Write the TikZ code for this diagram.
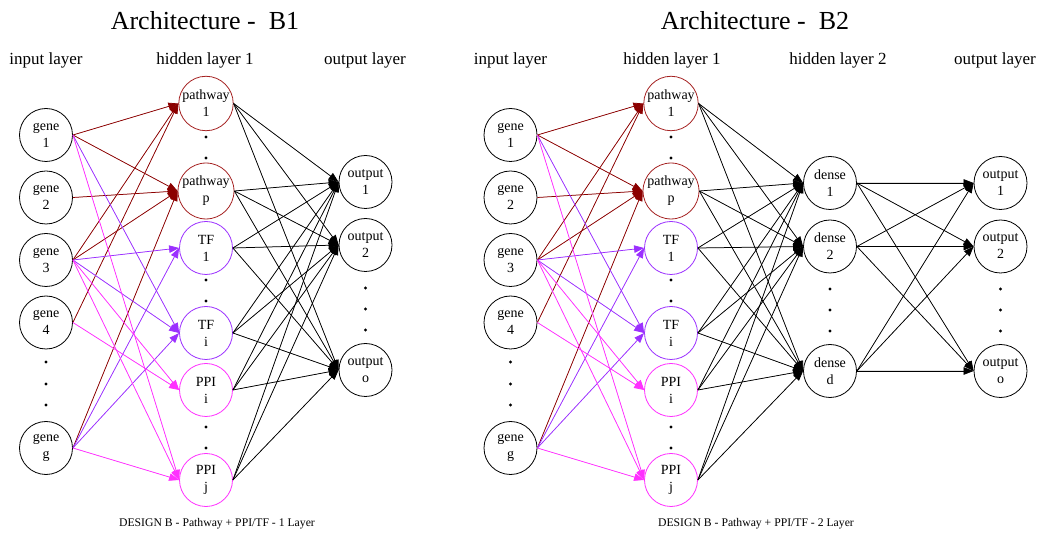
\documentclass[tikz,border=0pt]{standalone}
\usepackage{fontspec}
\setmainfont{Liberation Serif}
\usetikzlibrary{arrows.meta}
\definecolor{pwred}{HTML}{8B0000}
\definecolor{pwring}{HTML}{A52222}
\definecolor{tfpurple}{HTML}{9B30FF}
\definecolor{ppimag}{HTML}{FF30FF}
\begin{document}
\begin{tikzpicture}[x=1pt,y=-1pt,
  neuron/.style={circle,draw=black,line width=0.8pt,minimum size=53pt,inner sep=0pt,align=center,font=\fontsize{14}{17}\selectfont},
  pwnode/.style={neuron,draw=pwring},
  tfnode/.style={neuron,draw=tfpurple},
  ppinode/.style={neuron,draw=ppimag},
  link/.style={line width=0.75pt,-{Triangle[length=10pt,width=7.5pt]}},
  pwlink/.style={link,draw=pwred,fill=pwred},
  tflink/.style={link,draw=tfpurple,fill=tfpurple},
  ppilink/.style={link,draw=ppimag,fill=ppimag},
  denselink/.style={link,draw=black,fill=black},
  layerlbl/.style={anchor=base,inner sep=0pt,font=\fontsize{17}{20}\selectfont},
  titlelbl/.style={anchor=base,inner sep=0pt,font=\fontsize{26}{30}\selectfont},
  captionlbl/.style={anchor=base,inner sep=0pt,font=\fontsize{11.7}{14}\selectfont}]
\useasboundingbox (0,0) rectangle (1045,534);

% ---------------- Architecture B1 ----------------
\node[titlelbl] (t1) at (205,30) {Architecture -\ \ B1};
\node[layerlbl] (l1in)  at (46,65)  {input layer};
\node[layerlbl] (l1h1)  at (205,65) {hidden layer 1};
\node[layerlbl] (l1out) at (365,65) {output layer};

% input genes
\node[neuron] (Lg1) at (46,135)   {gene\\1};
\node[neuron] (Lg2) at (46,197.5) {gene\\2};
\node[neuron] (Lg3) at (46,260)   {gene\\3};
\node[neuron] (Lg4) at (46,322.5) {gene\\4};
\node[neuron] (Lgg) at (46,448)   {gene\\g};
\foreach \y in {362,384,405} \fill (46,\y) circle (1.7);

% hidden layer 1
\node[pwnode]  (Lp1) at (206,103.5) {pathway\\1};
\node[pwnode]  (Lpp) at (206,191)   {pathway\\p};
\node[tfnode]  (Lt1) at (206,248)   {TF\\1};
\node[tfnode]  (Lti) at (206,333)   {TF\\i};
\node[ppinode] (Lqi) at (206,390)   {PPI\\i};
\node[ppinode] (Lqj) at (206,480)   {PPI\\j};
\foreach \y in {137,158,280,301,427,448} \fill (206,\y) circle (1.7);

% outputs
\node[neuron] (Lo1) at (365.5,182) {output\\1};
\node[neuron] (Lo2) at (365.5,245) {output\\2};
\node[neuron] (Loo) at (365.5,370) {output\\o};
\foreach \y in {288,309,330} \fill (365.5,\y) circle (1.7);

\node[captionlbl] (c1) at (217,527) {DESIGN B - Pathway + PPI/TF - 1 Layer};

% ---------------- Architecture B2 ----------------
\node[titlelbl] (t2) at (755,30) {Architecture -\ \ B2};
\node[layerlbl] (l2in)  at (510.5,65) {input layer};
\node[layerlbl] (l2h1)  at (672,65)   {hidden layer 1};
\node[layerlbl] (l2h2)  at (838,65)   {hidden layer 2};
\node[layerlbl] (l2out) at (995,65)   {output layer};

\node[neuron] (Rg1) at (510.5,135)   {gene\\1};
\node[neuron] (Rg2) at (510.5,197.5) {gene\\2};
\node[neuron] (Rg3) at (510.5,260)   {gene\\3};
\node[neuron] (Rg4) at (510.5,322.5) {gene\\4};
\node[neuron] (Rgg) at (510.5,448)   {gene\\g};
\foreach \y in {362,384,405} \fill (510.5,\y) circle (1.7);

\node[pwnode]  (Rp1) at (671,103.5) {pathway\\1};
\node[pwnode]  (Rpp) at (671,191)   {pathway\\p};
\node[tfnode]  (Rt1) at (671,248)   {TF\\1};
\node[tfnode]  (Rti) at (671,333)   {TF\\i};
\node[ppinode] (Rqi) at (671,390)   {PPI\\i};
\node[ppinode] (Rqj) at (671,480)   {PPI\\j};
\foreach \y in {137,158,280,301,427,448} \fill (671,\y) circle (1.7);

\node[neuron] (Rd1) at (830,183)   {dense\\1};
\node[neuron] (Rd2) at (830,246.5) {dense\\2};
\node[neuron] (Rdd) at (830,371)   {dense\\d};
\foreach \y in {289,310,331} \fill (830,\y) circle (1.7);

\node[neuron] (Ro1) at (1000.5,183)   {output\\1};
\node[neuron] (Ro2) at (1000.5,246.5) {output\\2};
\node[neuron] (Roo) at (1000.5,371)   {output\\o};
\foreach \y in {289,310,331} \fill (1000.5,\y) circle (1.7);

\node[captionlbl] (c2) at (756,527) {DESIGN B - Pathway + PPI/TF - 2 Layer};

% ---------------- connections ----------------
% gene -> annotated hidden units (same sparse wiring in both designs)
\foreach \P in {L,R}{
  \foreach \s/\t/\k in {g1/p1/pwlink, g1/pp/pwlink, g2/pp/pwlink, g3/p1/pwlink,
                        g3/pp/pwlink, g4/p1/pwlink, gg/pp/pwlink,
                        g1/ti/tflink, g3/t1/tflink, g3/ti/tflink, gg/t1/tflink, gg/ti/tflink,
                        g1/qj/ppilink, g3/qi/ppilink, g3/qj/ppilink, g4/qi/ppilink, gg/qj/ppilink}
    \draw[\k] (\P\s.east) -- (\P\t.west);
}
% fully connected layers
\foreach \s in {p1,pp,t1,ti,qi,qj}{
  \foreach \t in {o1,o2,oo} \draw[denselink] (L\s.east) -- (L\t.west);
  \foreach \t in {d1,d2,dd} \draw[denselink] (R\s.east) -- (R\t.west);
}
\foreach \s in {d1,d2,dd}
  \foreach \t in {o1,o2,oo} \draw[denselink] (R\s.east) -- (R\t.west);
\end{tikzpicture}
\end{document}
